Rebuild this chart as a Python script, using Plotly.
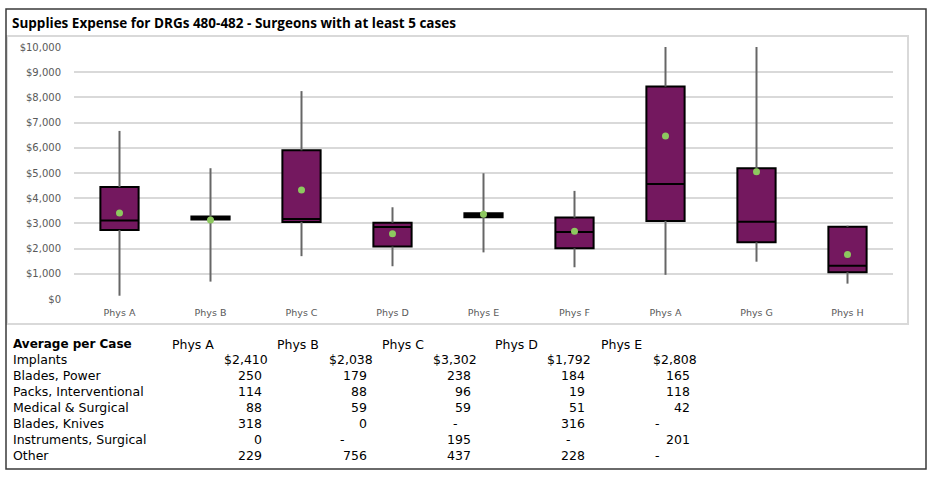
import plotly.graph_objects as go

# ---------------- data ----------------
categories = ["Phys A", "Phys B", "Phys C", "Phys D", "Phys E", "Phys F", "Phys A", "Phys G", "Phys H"]
whisker_low = [130, 690, 1700, 1300, 1850, 1260, 960, 1480, 610]
q1 = [2740, 3150, 3060, 2080, 3240, 2010, 3100, 2250, 1060]
median = [3120, 3200, 3175, 2860, 3320, 2660, 4560, 3070, 1320]
q3 = [4440, 3270, 5900, 3030, 3400, 3230, 8430, 5190, 2870]
whisker_high = [6670, 5190, 8250, 3640, 4990, 4290, 10000, 10000, 2910]
means = [3410, 3130, 4330, 2590, 3360, 2690, 6470, 5050, 1770]

y_ticks = [0, 1000, 2000, 3000, 4000, 5000, 6000, 7000, 8000, 9000, 10000]

table_header = "Average per Case"
table_columns = ["Phys A", "Phys B", "Phys C", "Phys D", "Phys E"]
table_rows = ["Implants", "Blades, Power", "Packs, Interventional", "Medical & Surgical",
              "Blades, Knives", "Instruments, Surgical", "Other"]
implants = [2410, 2038, 3302, 1792, 2808]
blades_power = [250, 179, 238, 184, 165]
packs_interventional = [114, 88, 96, 19, 118]
medical_surgical = [88, 59, 59, 51, 42]
blades_knives = [318, 0, None, 316, None]
instruments_surgical = [0, None, 195, None, 201]
other = [229, 756, 437, 228, None]
table_values = [implants, blades_power, packs_interventional, medical_surgical,
                blades_knives, instruments_surgical, other]

# ---------------- layout helpers ----------------
W, H = 936, 480
L, R, T, B = 74, 43, 47, 181
PW, PH = W - L - R, H - T - B


def px(x):
    return (x - L) / PW


def py(y):
    return (H - B - y) / PH


TITLE_FONT = "Open Sans"
FONT = "DejaVu Sans"
positions = list(range(len(categories)))

fig = go.Figure()

# whiskers (outside the box only: low -> q1 and q3 -> high)
wx, wy = [], []
for p, lo, a, b, hi in zip(positions, whisker_low, q1, q3, whisker_high):
    wx += [p, p, None, p, p, None]
    wy += [lo, a, None, b, hi, None]
fig.add_trace(go.Scatter(x=wx, y=wy, mode="lines", line=dict(color="#666666", width=2),
                         hoverinfo="skip", showlegend=False))

# boxes
fig.add_trace(go.Box(x=positions, q1=q1, median=median, q3=q3,
                     lowerfence=q1, upperfence=q3,
                     fillcolor="#74185f", line=dict(color="#000000", width=2),
                     whiskerwidth=0, width=0.42, showlegend=False, boxpoints=False))

# means
fig.add_trace(go.Scatter(x=positions, y=means, mode="markers",
                         marker=dict(color="#8dc85f", size=7, line=dict(width=0)),
                         showlegend=False))

annotations = []
# title
annotations.append(dict(x=px(10), y=py(23), xref="paper", yref="paper", xanchor="left", yanchor="middle",
                        text="<b>Supplies Expense for DRGs 480-482 - Surgeons with at least 5 cases</b>",
                        showarrow=False, font=dict(family=TITLE_FONT, size=13.5, color="#000000")))

# table
row_y = [359, 375, 391, 407, 423, 439, 455]
header_y = 344
col_header_x = [170, 275, 380, 493, 599]
col_dollar_right = [270, 375, 479, 593, 699]
col_num_right = [264, 369, 473, 587, 692]
col_dash_x = [240, 342, 455, 568, 657]
tfont = dict(family=FONT, size=12.5, color="#000000")

annotations.append(dict(x=px(11), y=py(header_y), xref="paper", yref="paper", xanchor="left",
                        yanchor="middle", text="<b>" + table_header + "</b>", showarrow=False,
                        font=dict(family=FONT, size=12, color="#000000")))
for cx, name in zip(col_header_x, table_columns):
    annotations.append(dict(x=px(cx), y=py(header_y), xref="paper", yref="paper", xanchor="left",
                            yanchor="middle", text=name, showarrow=False, font=tfont))
for ri, (rname, vals) in enumerate(zip(table_rows, table_values)):
    yy = py(row_y[ri])
    annotations.append(dict(x=px(11), y=yy, xref="paper", yref="paper", xanchor="left",
                            yanchor="middle", text=rname, showarrow=False, font=tfont))
    for ci, v in enumerate(vals):
        if v is None:
            annotations.append(dict(x=px(col_dash_x[ci]), y=yy, xref="paper", yref="paper",
                                    xanchor="center", yanchor="middle", text="-", showarrow=False,
                                    font=tfont))
        elif ri == 0:
            annotations.append(dict(x=px(col_dollar_right[ci]), y=yy, xref="paper", yref="paper",
                                    xanchor="right", yanchor="middle", text="${:,}".format(v),
                                    showarrow=False, font=tfont))
        else:
            annotations.append(dict(x=px(col_num_right[ci]), y=yy, xref="paper", yref="paper",
                                    xanchor="right", yanchor="middle", text="{:,}".format(v),
                                    showarrow=False, font=tfont))

shapes = [
    # outer border
    dict(type="rect", xref="paper", yref="paper", x0=px(6), x1=px(926), y0=py(469), y1=py(9),
         line=dict(color="#3a3a3a", width=1.5), fillcolor="rgba(0,0,0,0)", layer="above"),
    # chart area border
    dict(type="rect", xref="paper", yref="paper", x0=px(7), x1=px(908), y0=py(324), y1=py(36),
         line=dict(color="#d9d9d9", width=2), fillcolor="rgba(0,0,0,0)", layer="below"),
]

fig.update_layout(
    width=W, height=H,
    margin=dict(l=L, r=R, t=T, b=B),
    paper_bgcolor="white", plot_bgcolor="white",
    showlegend=False,
    annotations=annotations,
    shapes=shapes,
    xaxis=dict(range=[-0.5, len(categories) - 0.5], tickmode="array", tickvals=positions,
               ticktext=categories, showgrid=False, zeroline=False, showline=False,
               tickfont=dict(family=FONT, size=9.5, color="#595959"), ticks="",
               ticklabelstandoff=6),
    yaxis=dict(range=[0, 10000], tickmode="array", tickvals=y_ticks, tickformat="$,.0f",
               showgrid=True, gridcolor="#d9d9d9", gridwidth=1.5, zeroline=False, showline=False,
               tickfont=dict(family=FONT, size=10, color="#595959"), ticks="",
               ticklabelstandoff=12),
)

fig.write_html("out.html", config={"displayModeBar": False},
               post_script="document.body.style.margin='0';")
